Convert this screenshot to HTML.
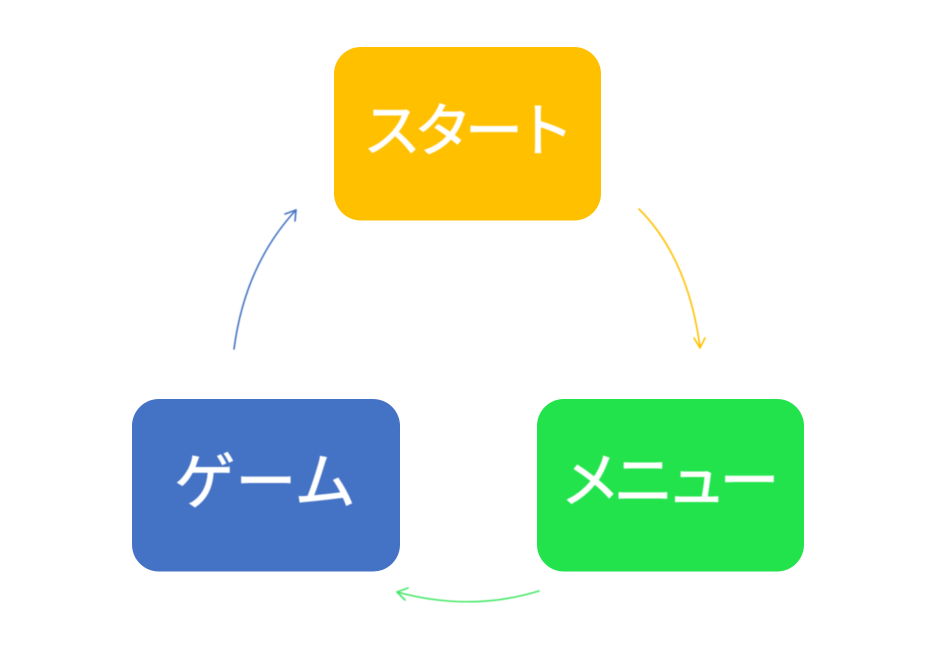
<!DOCTYPE html>
<html lang="ja">
<head>
<meta charset="utf-8">
<style>
html,body{margin:0;padding:0;background:#fff;}
body{width:933px;height:650px;overflow:hidden;position:relative;}
svg{position:absolute;left:0;top:0;}
text{font-family:"Liberation Sans","Noto Sans CJK JP",sans-serif;fill:#fff;stroke:#fff;stroke-width:.9px;text-anchor:middle;filter:blur(.4px);}
</style>
</head>
<body>
<svg width="933" height="650" viewBox="0 0 933 650" xmlns="http://www.w3.org/2000/svg">
<rect x="334" y="47" width="267" height="173.500" rx="27" fill="#FFC000"/>
<rect x="132" y="399" width="268" height="172.500" rx="27" fill="#4472C4"/>
<rect x="537" y="399" width="267" height="172.500" rx="27" fill="#22E34C"/>
<text x="465" y="151" font-size="58" letter-spacing="-7">スタート</text>
<text x="265" y="503" font-size="61">ゲーム</text>
<text x="666.500" y="502" font-size="60" letter-spacing="-7">メニュー</text>
<g fill="none" stroke-width="1.600" stroke-linecap="round" stroke-linejoin="round" style="filter:blur(.4px)">
<path d="M639 209Q688 258 700 347" stroke="#FFC000"/>
<path d="M694 338L700 348L705 338" stroke="#FFC000"/>
<path d="M539 591Q470 612 397 592" stroke="#45E768"/>
<path d="M408 588L397 592L405 600" stroke="#45E768"/>
<path d="M234 349Q245 265 296 210" stroke="#4472C4"/>
<path d="M285 214L296 210L295 221" stroke="#4472C4"/>
</g>
</svg>
</body>
</html>
